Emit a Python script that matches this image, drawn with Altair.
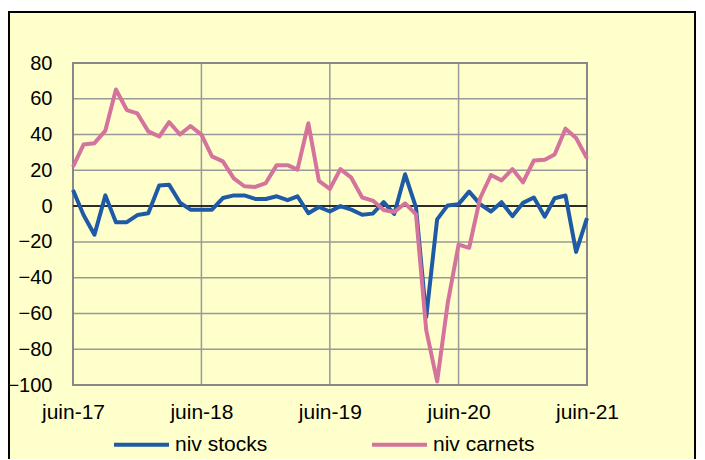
import altair as alt
import pandas as pd

# ---- data ----
months = pd.date_range("2017-06-01", periods=49, freq="MS").strftime("%Y-%m-%d").tolist()

niv_stocks = [9, -5, -16, 6, -9, -9, -5, -4, 11.5, 12, 2, -2, -2, -2, 4.5, 6, 6, 4, 4,
              5.5, 3.3, 5.5, -4, -0.5, -3, 0, -2, -4.8, -4.2, 2.2, -4.4, 17.8, -0.8,
              -62, -7.4, 0.4, 1.1, 8.1, 1.1, -3, 2.2, -5.6, 1.8, 4.8, -5.9, 4.4, 5.9,
              -25.6, -6.7]
niv_carnets = [22, 34.4, 35.2, 42.2, 65.2, 53.7, 51.8, 41.8, 38.9, 47, 40, 44.8, 40,
               27.8, 25, 15.5, 11.1, 10.7, 12.9, 22.9, 22.9, 20.4, 46.3, 14.1, 9.6, 20.7,
               15.9, 4.8, 3.1, -2.2, -3.3, 1.5, -4.6, -69.3, -98, -54.4, -21.5, -23.3,
               4.4, 17.4, 14.4, 20.7, 13.3, 25.5, 25.9, 28.9, 43.3, 38.1, 26.7]

y_ticks = [-100, -80, -60, -40, -20, 0, 20, 40, 60, 80]
x_tick_years = [2017, 2018, 2019, 2020, 2021]
x_ticks = [f"{y}-06-01" for y in x_tick_years]
series_names = ["niv stocks", "niv carnets"]
series_colors = ["#1F5AA6", "#D4739B"]

# ---- build ----
W, H = 514, 322
FONT = "Liberation Sans"

df = pd.concat([
    pd.DataFrame({"date": months, "value": niv_stocks, "series": series_names[0]}),
    pd.DataFrame({"date": months, "value": niv_carnets, "series": series_names[1]}),
])

x_scale = alt.Scale(type="utc", domain=[
    alt.DateTime(year=x_tick_years[0], month=6, date=1, utc=True),
    alt.DateTime(year=x_tick_years[-1], month=6, date=1, utc=True)])
y_scale = alt.Scale(domain=[y_ticks[0], y_ticks[-1]], nice=False, zero=False)

x_axis = alt.Axis(
    values=[alt.DateTime(year=y, month=6, date=1, utc=True) for y in x_tick_years],
    labelExpr="'juin-' + utcFormat(datum.value, '%y')",
    grid=False, domain=False, ticks=False, labelPadding=16, labelFlush=False,
    labelOverlap=False, labelFontSize=21, labelFont=FONT, labelColor="black",
    title=None, zindex=2)
y_axis = alt.Axis(
    values=y_ticks, grid=False, domain=False, ticks=False, labelPadding=21,
    labelFontSize=20, labelFont=FONT, labelColor="black", title=None, zindex=2)

bg = alt.Chart(alt.Data(values=[{}])).mark_rect(
    fill="#FFFFCC", stroke="black", strokeWidth=2
).encode(x=alt.value(-64), x2=alt.value(622), y=alt.value(-51), y2=alt.value(H + 120))

ygrid = alt.Chart(pd.DataFrame({"v": y_ticks})).mark_rule(
    color="#999999", strokeWidth=1.5
).encode(y=alt.Y("v:Q", scale=y_scale, axis=y_axis))

xgrid = alt.Chart(pd.DataFrame({"d": x_ticks})).mark_rule(
    color="#999999", strokeWidth=1.5
).encode(x=alt.X("d:T", scale=x_scale, axis=x_axis))

frame = alt.Chart(alt.Data(values=[{}])).mark_rect(
    fill="transparent", stroke="#888888", strokeWidth=2
).encode(x=alt.value(0), x2=alt.value(W), y=alt.value(0), y2=alt.value(H))

zero = alt.Chart(alt.Data(values=[{"z": 0}])).mark_rule(
    color="black", strokeWidth=1.5
).encode(y=alt.Y("z:Q", scale=y_scale, axis=y_axis))

color = alt.Color("series:N", scale=alt.Scale(domain=series_names, range=series_colors),
                  legend=alt.Legend(
                      orient="none", legendX=39, legendY=352, direction="horizontal",
                      title=None, symbolType="stroke", symbolSize=3025,
                      symbolStrokeWidth=4, labelFontSize=21, labelFont=FONT,
                      labelColor="black", labelOffset=4, columnPadding=96, padding=0,
                      zindex=2))

def series_line(name):
    return alt.Chart(df).transform_filter(alt.datum.series == name).mark_line(
        strokeWidth=4, strokeJoin="round"
    ).encode(
        x=alt.X("date:T", scale=x_scale, axis=x_axis),
        y=alt.Y("value:Q", scale=y_scale, axis=y_axis),
        color=color,
    )

chart = alt.layer(
    bg, ygrid, xgrid, frame, zero, series_line(series_names[0]), series_line(series_names[1])
).properties(
    width=W, height=H,
    autosize=alt.AutoSizeParams(type="none"),
    padding={"left": 65, "top": 55, "right": 110, "bottom": 74},
    background="white",
).configure_view(stroke=None)

chart.save("out.html", embed_options={"renderer": "svg", "actions": False})
